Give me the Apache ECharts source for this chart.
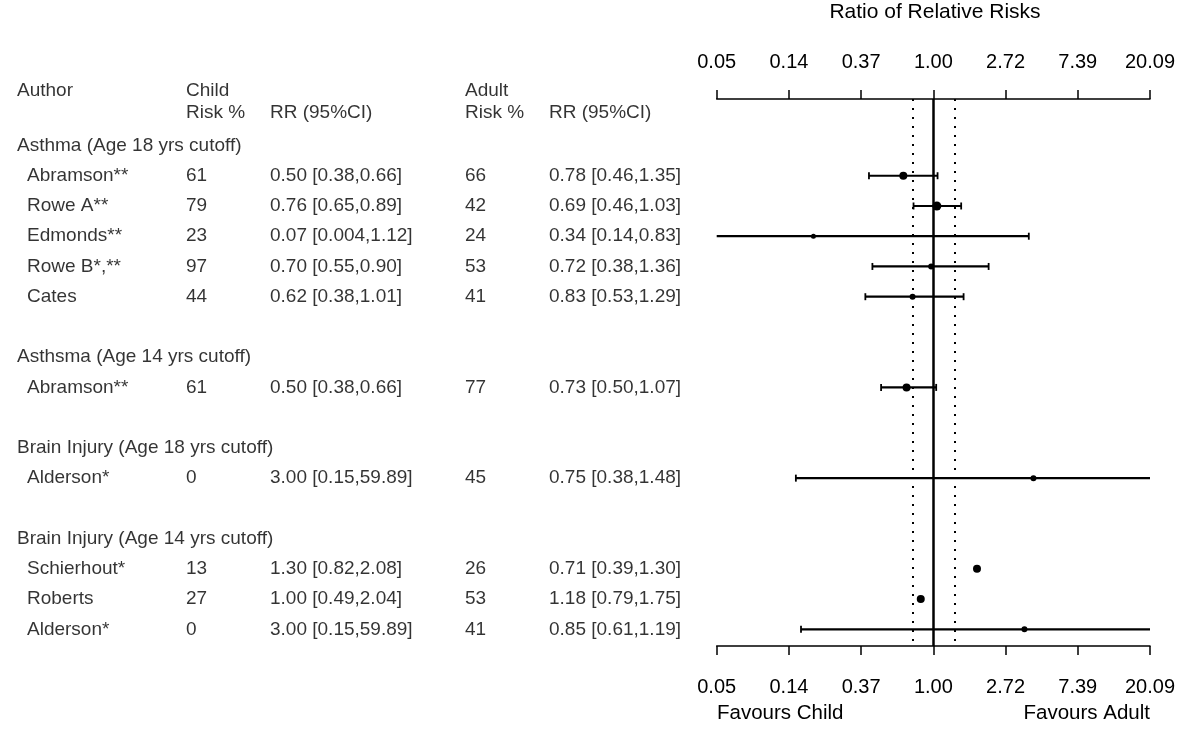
<!DOCTYPE html>
<html><head><meta charset="utf-8">
<script src="https://cdn.jsdelivr.net/npm/echarts@6/dist/echarts.min.js"></script>
<style>html,body{margin:0;padding:0;background:#fff}#c{width:1200px;height:738px}</style>
</head><body><div id="c"></div>
<script>
// ---- data ----
const groupNames = ['Asthma (Age 18 yrs cutoff)', 'Asthsma (Age 14 yrs cutoff)', 'Brain Injury (Age 18 yrs cutoff)', 'Brain Injury (Age 14 yrs cutoff)'];
const studyGroup = [0, 0, 0, 0, 0, 1, 2, 3, 3, 3];
const authors = ['Abramson**', 'Rowe A**', 'Edmonds**', 'Rowe B*,**', 'Cates', 'Abramson**', 'Alderson*', 'Schierhout*', 'Roberts', 'Alderson*'];
const childRisk = ['61', '79', '23', '97', '44', '61', '0', '13', '27', '0'];
const childRR = ['0.50 [0.38,0.66]', '0.76 [0.65,0.89]', '0.07 [0.004,1.12]', '0.70 [0.55,0.90]', '0.62 [0.38,1.01]', '0.50 [0.38,0.66]', '3.00 [0.15,59.89]', '1.30 [0.82,2.08]', '1.00 [0.49,2.04]', '3.00 [0.15,59.89]'];
const adultRisk = ['66', '42', '24', '53', '41', '77', '45', '26', '53', '41'];
const adultRR = ['0.78 [0.46,1.35]', '0.69 [0.46,1.03]', '0.34 [0.14,0.83]', '0.72 [0.38,1.36]', '0.83 [0.53,1.29]', '0.73 [0.50,1.07]', '0.75 [0.38,1.48]', '0.71 [0.39,1.30]', '1.18 [0.79,1.75]', '0.85 [0.61,1.19]'];
// ratio of relative risks (child / adult) with 95% CI
const ratioRR = [0.66, 1.05, 0.19, 0.97, 0.75, 0.69, 4.0, 1.83, 0.84, 3.53];
const ratioLow = [0.41, 0.76, 0.03, 0.43, 0.39, 0.485, 0.149, null, null, 0.16];
const ratioHigh = [1.06, 1.47, 3.75, 2.15, 1.52, 1.04, 25, null, null, 25];
const studyWeight = [4, 5, 1, 2, 2, 4, 2, 4, 4, 2];
const tickExponents = [-3, -2, -1, 0, 1, 2, 3];
const refLine = 1.0;
const marginLines = [0.75, 1.35];
const headerTexts = ['Author', 'Child', 'Risk %', 'RR (95%CI)', 'Adult', 'Risk %', 'RR (95%CI)'];

// ---- layout ----
const FONT = 'Liberation Sans, Arial, sans-serif';
const FS = 19;
const colX = { group: 17, author: 27, childRisk: 186, childRR: 270, adultRisk: 465, adultRR: 549 };

// row assignment
let row = 0;
const groupRow = [], studyRow = [];
groupNames.forEach((g, gi) => {
  groupRow.push(row); row++;
  studyGroup.forEach((sg, i) => { if (sg === gi) { studyRow[i] = row; row++; } });
  row++;
});

const tableData = [];
const hdrRow1 = -1.8, hdrRow2 = -1.08;
tableData.push([colX.group, hdrRow1, headerTexts[0]]);
tableData.push([colX.childRisk, hdrRow1, headerTexts[1]]);
tableData.push([colX.childRisk, hdrRow2, headerTexts[2]]);
tableData.push([colX.childRR, hdrRow2, headerTexts[3]]);
tableData.push([colX.adultRisk, hdrRow1, headerTexts[4]]);
tableData.push([colX.adultRisk, hdrRow2, headerTexts[5]]);
tableData.push([colX.adultRR, hdrRow2, headerTexts[6]]);
groupNames.forEach((g, gi) => tableData.push([colX.group, groupRow[gi], g]));
authors.forEach((a, i) => {
  const r = studyRow[i];
  tableData.push([colX.author, r, a]);
  tableData.push([colX.childRisk, r, childRisk[i]]);
  tableData.push([colX.childRR, r, childRR[i]]);
  tableData.push([colX.adultRisk, r, adultRisk[i]]);
  tableData.push([colX.adultRR, r, adultRR[i]]);
});

const ciData = [];
authors.forEach((a, i) => {
  if (ratioLow[i] != null) ciData.push([studyRow[i], Math.log(ratioLow[i]), Math.log(ratioHigh[i])]);
});
const pointData = authors.map((a, i) => [Math.log(ratioRR[i]), studyRow[i], studyWeight[i]]);

const ROW0 = 145.5, ROWH = 30.24, GTOP = 99, GBOT = 646;
const plotYMin = (GTOP - ROW0) / ROWH, plotYMax = (GBOT - ROW0) / ROWH;
const tabYMin = -ROW0 / ROWH, tabYMax = (738 - ROW0) / ROWH;

const axisCommon = {
  type: 'value', gridIndex: 0, min: tickExponents[0], max: tickExponents[tickExponents.length - 1], interval: 1,
  axisLine: { show: true, onZero: false, lineStyle: { color: '#000', width: 1.5 } },
  axisTick: { show: true, length: 9, lineStyle: { color: '#000', width: 1.5 } },
  splitLine: { show: false },
  axisLabel: { color: '#000', fontSize: FS + 1, fontFamily: FONT, formatter: v => Math.exp(v).toFixed(2) }
};

const chart = echarts.init(document.getElementById('c'));
chart.setOption({
  animation: false,
  backgroundColor: '#fff',
  grid: [
    { left: 716.7, top: GTOP, width: 433.3, height: GBOT - GTOP },
    { left: 0, top: 0, width: 700, height: 738 }
  ],
  xAxis: [
    Object.assign({}, axisCommon, { position: 'top', axisLabel: Object.assign({}, axisCommon.axisLabel, { margin: 27 }) }),
    Object.assign({}, axisCommon, { position: 'bottom', axisLabel: Object.assign({}, axisCommon.axisLabel, { margin: 31 }) }),
    { type: 'value', gridIndex: 1, min: 0, max: 700, show: false }
  ],
  yAxis: [
    { type: 'value', gridIndex: 0, inverse: true, min: plotYMin, max: plotYMax, show: false },
    { type: 'value', gridIndex: 1, inverse: true, min: tabYMin, max: tabYMax, show: false }
  ],
  graphic: [
    { type: 'text', x: 935, y: 2, style: { text: 'Ratio of Relative Risks', textAlign: 'center', fill: '#000', font: '21px ' + FONT } },
    { type: 'text', left: 717, top: 703, style: { text: 'Favours Child', fill: '#000', font: '20.5px ' + FONT } },
    { type: 'text', right: 50, top: 703, style: { text: 'Favours Adult', fill: '#000', font: '20.5px ' + FONT } }
  ],
  series: [
    {
      type: 'line', xAxisIndex: 0, yAxisIndex: 0, data: [], silent: true,
      markLine: {
        silent: true, symbol: 'none', label: { show: false },
        lineStyle: { color: '#000', width: 2, type: [2, 7] },
        data: marginLines.map(v => ({ xAxis: Math.log(v) }))
      }
    },
    {
      type: 'line', xAxisIndex: 0, yAxisIndex: 0, data: [], silent: true,
      markLine: {
        silent: true, symbol: 'none', label: { show: false },
        lineStyle: { color: '#000', width: 2.5, type: 'solid' },
        data: [{ xAxis: Math.log(refLine) }]
      }
    },
    {
      type: 'custom', xAxisIndex: 0, yAxisIndex: 0, silent: true,
      encode: { x: [1, 2], y: 0 },
      data: ciData,
      renderItem: (params, api) => {
        const cs = params.coordSys;
        const r = api.value(0);
        const p1 = api.coord([api.value(1), r]);
        const p2 = api.coord([api.value(2), r]);
        const xL = Math.max(p1[0], cs.x), xR = Math.min(p2[0], cs.x + cs.width);
        const y = p1[1];
        const children = [{ type: 'line', shape: { x1: xL, y1: y, x2: xR, y2: y }, style: { stroke: '#000', lineWidth: 2.2 } }];
        if (p1[0] >= cs.x) children.push({ type: 'line', shape: { x1: p1[0], y1: y - 3.5, x2: p1[0], y2: y + 3.5 }, style: { stroke: '#000', lineWidth: 1.8 } });
        if (p2[0] <= cs.x + cs.width) children.push({ type: 'line', shape: { x1: p2[0], y1: y - 3.5, x2: p2[0], y2: y + 3.5 }, style: { stroke: '#000', lineWidth: 1.8 } });
        return { type: 'group', children };
      }
    },
    {
      type: 'scatter', xAxisIndex: 0, yAxisIndex: 0, silent: true,
      data: pointData,
      symbol: 'circle',
      symbolSize: v => 4 + v[2],
      itemStyle: { color: '#000', opacity: 1 }
    },
    {
      type: 'scatter', xAxisIndex: 2, yAxisIndex: 1, silent: true, clip: false,
      data: tableData, symbolSize: 0,
      label: { show: true, position: 'right', distance: 0, formatter: p => p.data[2], color: '#000', fontSize: FS, fontFamily: FONT }
    }
  ]
});
</script>
</body></html>
